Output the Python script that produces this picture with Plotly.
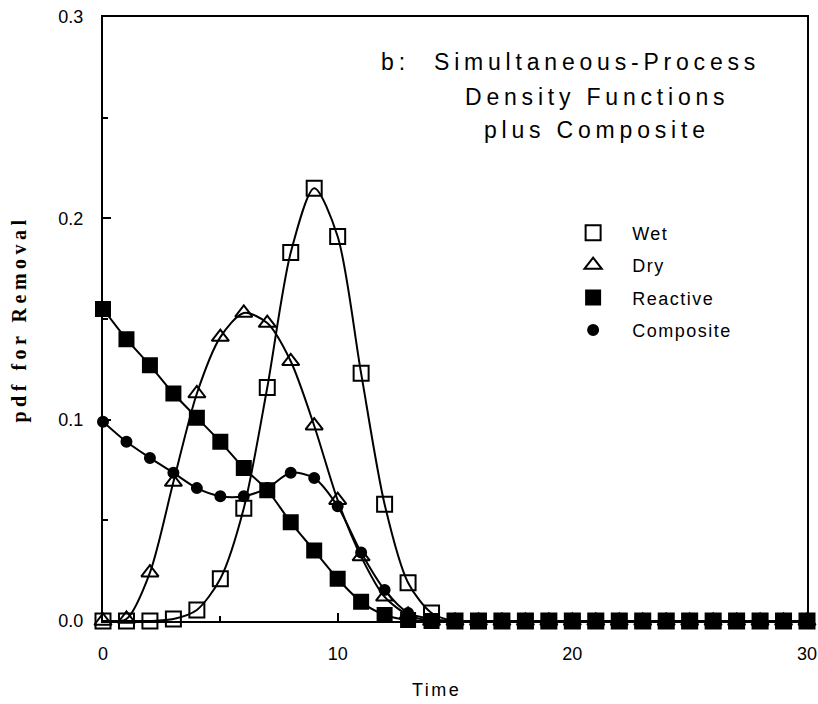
import plotly.graph_objects as go

time = list(range(0, 31))
wet = [0.0, 0.0, 0.0, 0.001, 0.0055, 0.021, 0.056, 0.116, 0.183, 0.215, 0.191, 0.123,
       0.058, 0.019, 0.004] + [0.0] * 16
dry = [0.0, 0.001, 0.024, 0.069, 0.113, 0.141, 0.153, 0.148, 0.129, 0.097, 0.060, 0.032,
       0.012, 0.003, 0.0] + [0.0] * 16
reactive = [0.155, 0.140, 0.127, 0.113, 0.101, 0.089, 0.076, 0.065, 0.049, 0.035, 0.021,
            0.0095, 0.003, 0.0005, 0.0] + [0.0] * 16
composite = [0.099, 0.089, 0.081, 0.0736, 0.066, 0.062, 0.062, 0.066, 0.0736, 0.071, 0.057,
             0.034, 0.0154, 0.004, 0.001] + [0.0] * 16

series = [
    ("Wet", wet, "square-open", 15),
    ("Dry", dry, "triangle-up-open", 15),
    ("Reactive", reactive, "square", 14),
    ("Composite", composite, "circle", 10),
]

def spaced(t, px):
    return f'<span style="letter-spacing:{px}px">{t}</span>'

fig = go.Figure()
for name, vals, sym, sz in series:
    fig.add_trace(go.Scatter(
        x=time, y=vals, mode="lines", line=dict(color="black", width=2, shape="spline", smoothing=0.8),
        showlegend=False, hoverinfo="skip", cliponaxis=False))
for name, vals, sym, sz in series:
    fig.add_trace(go.Scatter(
        x=time, y=vals, mode="markers",
        name=spaced("&nbsp;", 5) + spaced(name, 1.5), legendgroup=name,
        marker=dict(symbol=sym, size=sz, color="black", line=dict(color="black", width=2)),
        cliponaxis=False))

fig.add_annotation(x=0.415, y=0.925, xref="paper", yref="paper", text=spaced("b:", 5),
                   showarrow=False, xanchor="center", yanchor="middle",
                   font=dict(family="Liberation Sans", size=23, color="black"))
for txt, yy in [("Simultaneous-Process", 0.925), ("Density Functions", 0.868), ("plus Composite", 0.813)]:
    fig.add_annotation(x=0.702, y=yy, xref="paper", yref="paper", text=spaced(txt, 4.8),
                       showarrow=False, xanchor="center", yanchor="middle",
                       font=dict(family="Liberation Sans", size=23, color="black"))

fig.add_annotation(x=0.474, y=-0.114, xref="paper", yref="paper", text=spaced("Time", 2.5),
                   showarrow=False, xanchor="center", yanchor="middle",
                   font=dict(family="Liberation Sans", size=18, color="black"))
fig.add_annotation(x=-0.12, y=0.5, xref="paper", yref="paper", text=spaced("<b>pdf for Removal</b>", 4.5),
                   showarrow=False, xanchor="center", yanchor="middle", textangle=-90,
                   font=dict(family="Liberation Serif", size=20, color="black"))

fig.update_layout(
    width=818, height=704,
    margin=dict(l=103, r=11, t=17, b=83),
    paper_bgcolor="white", plot_bgcolor="white",
    font=dict(family="Liberation Sans", color="black"),
    showlegend=True,
    legend=dict(x=0.655, y=0.673, xanchor="left", yanchor="top", bgcolor="rgba(0,0,0,0)",
                font=dict(family="Liberation Sans", size=18, color="black"),
                tracegroupgap=6, itemsizing="trace", itemwidth=48),
    xaxis=dict(range=[0, 30], tickvals=[0, 10, 20, 30], ticktext=["0", "10", "20", "30"],
               ticks="inside", ticklen=8, tickwidth=2, tickcolor="black",
               minor=dict(tickvals=[5, 15, 25], ticks="inside", ticklen=5, tickwidth=2, tickcolor="black"),
               showline=True, linecolor="black", linewidth=2, mirror=True,
               showgrid=False, zeroline=False, ticklabelstandoff=15, automargin=False,
               tickfont=dict(size=18, family="Liberation Sans")),
    yaxis=dict(range=[0, 0.3], tickvals=[0, 0.1, 0.2, 0.3], ticktext=["0.0", "0.1", "0.2", "0.3"],
               ticks="inside", ticklen=8, tickwidth=2, tickcolor="black",
               minor=dict(tickvals=[0.05, 0.15, 0.25], ticks="inside", ticklen=5, tickwidth=2, tickcolor="black"),
               showline=True, linecolor="black", linewidth=2, mirror=True,
               showgrid=False, zeroline=False, ticklabelstandoff=14, automargin=False,
               tickfont=dict(size=18, family="Liberation Sans")),
)

fig.write_html("out.html", config={"displayModeBar": False},
               post_script="document.body.style.margin='0';document.body.style.overflow='hidden';")
